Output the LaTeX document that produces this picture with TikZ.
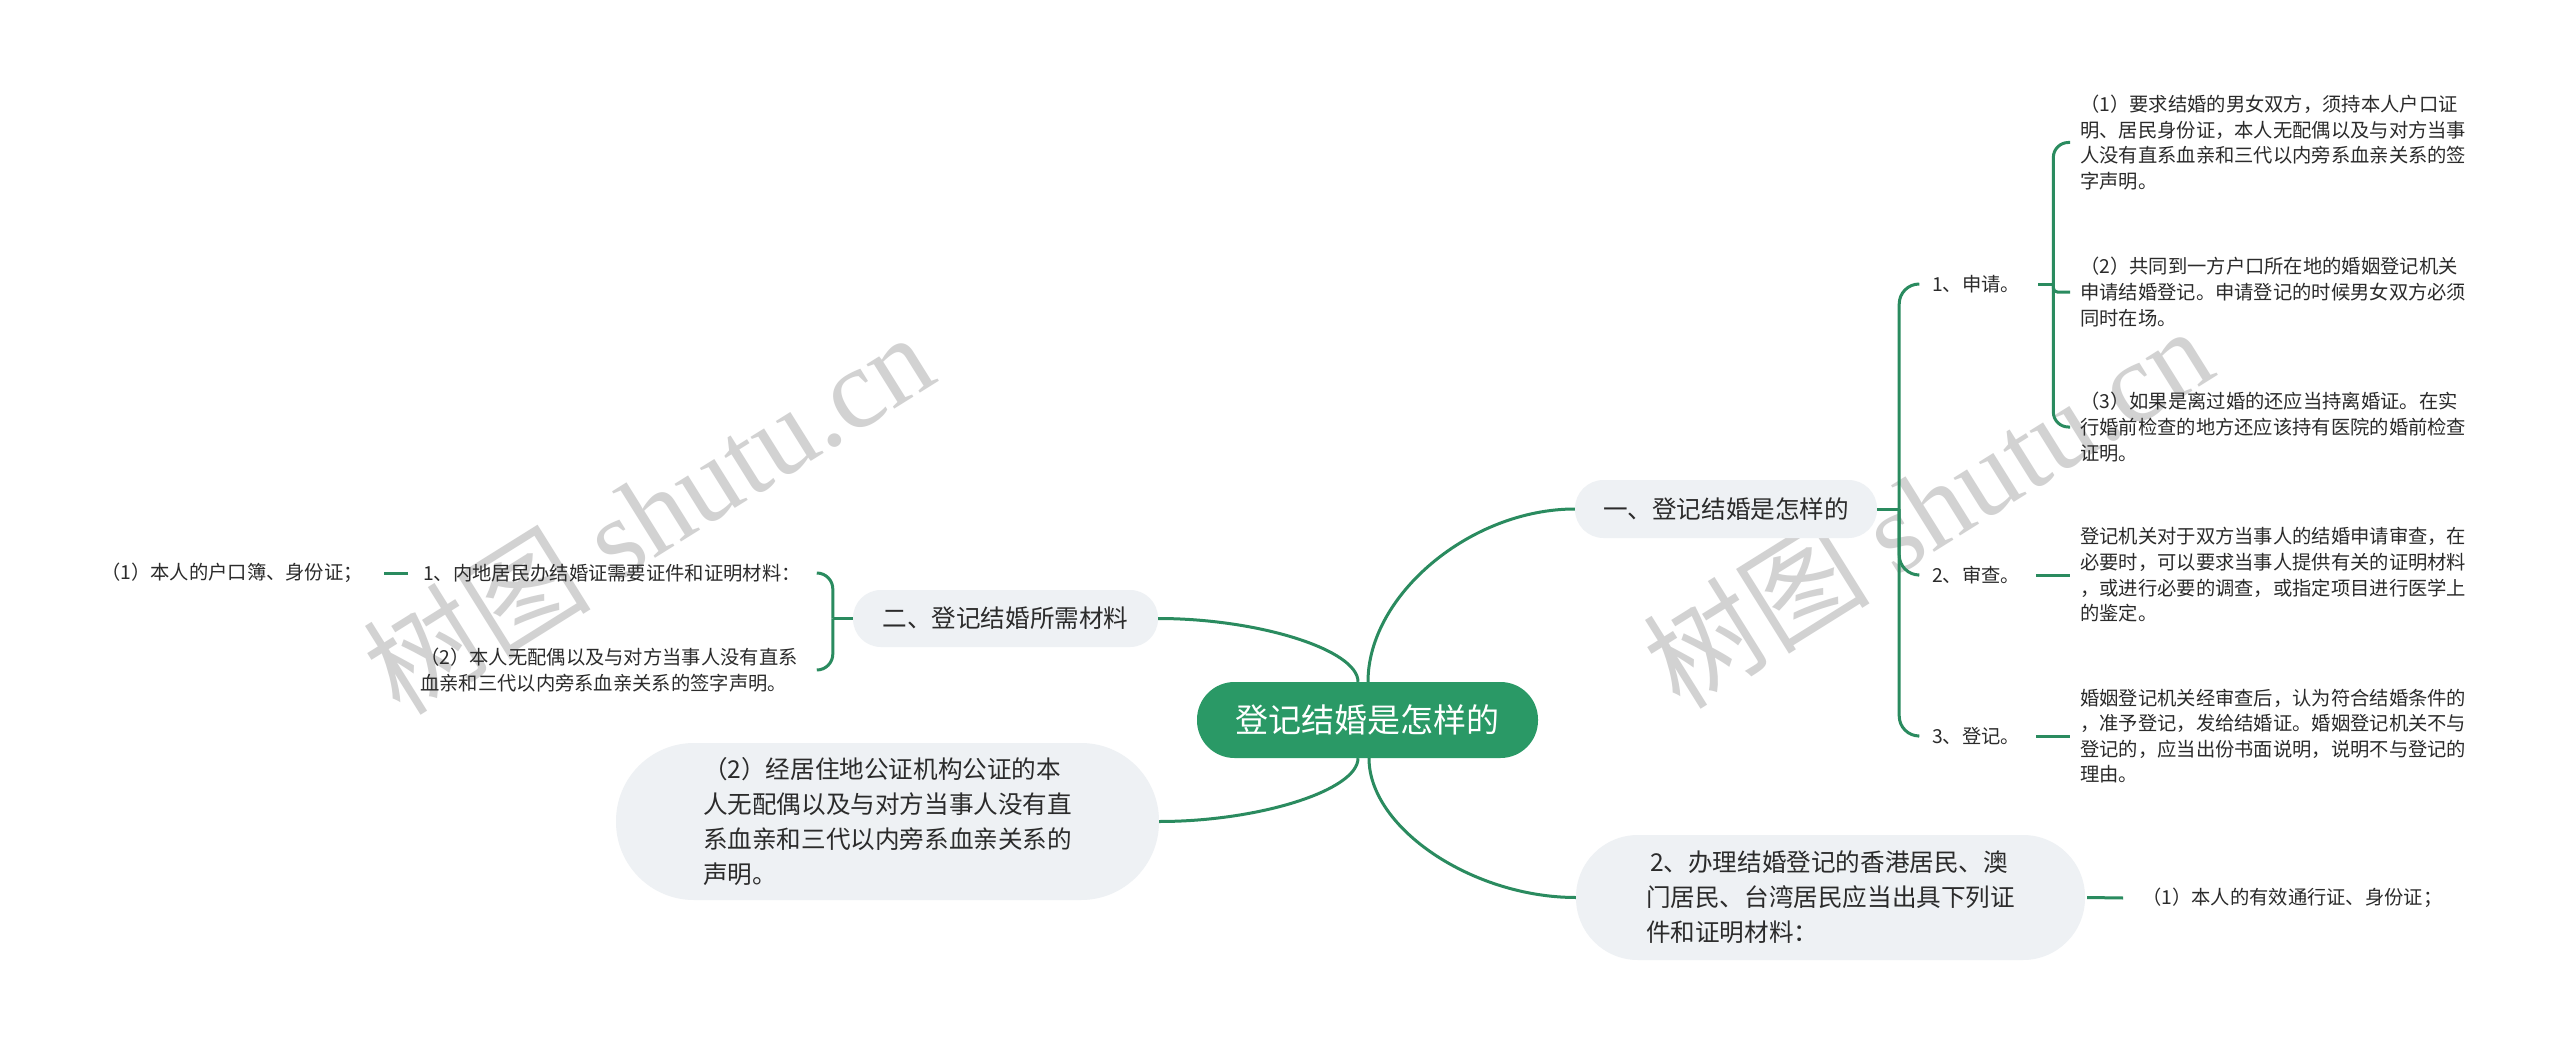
\documentclass[tikz,border=0pt]{standalone}
\usepackage{fontspec}
\setmainfont{Noto Sans CJK SC}
\newfontfamily\wmlatin{Liberation Serif}
\usetikzlibrary{calc}
\definecolor{lineg}{HTML}{2A8B5F}
\definecolor{rootg}{HTML}{2A9966}
\definecolor{boxg}{HTML}{EEF1F4}
\definecolor{txt}{HTML}{2B2B2B}
\definecolor{wm}{HTML}{D2D2D2}
\begin{document}
\begin{tikzpicture}[x=1pt,y=-1pt,
  conn/.style={draw=lineg,line width=3pt},
  small/.style={font=\fontsize{19.3}{25.6}\selectfont,text=txt,inner sep=0pt,align=left,anchor=west},
  topic/.style={fill=boxg,text=txt,inner sep=0pt,align=left,font=\fontsize{24.6}{35}\selectfont},
  rootbox/.style={fill=rootg,text=white,inner sep=0pt,font=\fontsize{33}{40}\selectfont},
  wmark/.style={text=wm,inner sep=0pt,font=\fontsize{114}{120}\selectfont}]
\useasboundingbox[fill=white] (0,0) rectangle (2560,1043);
% watermarks
\node[wmark,rotate=32] (wm1) at (648,512) {树图 {\wmlatin shutu.cn}};
\node[wmark,rotate=32] (wm2) at (1927,506) {树图 {\wmlatin shutu.cn}};
% main nodes
\node[rootbox,minimum width=341pt,minimum height=76pt,rounded corners=37.5pt] (root) at (1367.5,720) {登记结婚是怎样的};
\node[topic,minimum width=302pt,minimum height=58pt,rounded corners=28.5pt] (n1) at (1726,509) {一、登记结婚是怎样的};
\node[topic,minimum width=305pt,minimum height=57pt,rounded corners=28pt] (n2) at (1005.5,618.5) {二、登记结婚所需材料};
\node[topic,minimum width=543pt,minimum height=157pt,rounded corners=78pt] (n3) at (887.5,821.5) {（2）经居住地公证机构公证的本\\人无配偶以及与对方当事人没有直\\系血亲和三代以内旁系血亲关系的\\声明。};
\node[topic,minimum width=509pt,minimum height=125pt,rounded corners=62pt] (n4) at (1830.5,897.5) {\hspace*{4pt}2、办理结婚登记的香港居民、澳\\门居民、台湾居民应当出具下列证\\件和证明材料：};
% right texts
\node[small] (a1) at (1932,284) {1、申请。};
\node[small] (a2) at (1932,575) {2、审查。};
\node[small] (a3) at (1932,736) {3、登记。};
\node[small] (b1) at (2080,142.5) {（1）要求结婚的男女双方，须持本人户口证\\明、居民身份证，本人无配偶以及与对方当事\\人没有直系血亲和三代以内旁系血亲关系的签\\字声明。};
\node[small] (b2) at (2080,292) {（2）共同到一方户口所在地的婚姻登记机关\\申请结婚登记。申请登记的时候男女双方必须\\同时在场。};
\node[small] (b3) at (2080,427) {（3）如果是离过婚的还应当持离婚证。在实\\行婚前检查的地方还应该持有医院的婚前检查\\证明。};
\node[small] (b4) at (2080,575) {登记机关对于双方当事人的结婚申请审查，在\\必要时，可以要求当事人提供有关的证明材料\\，或进行必要的调查，或指定项目进行医学上\\的鉴定。};
\node[small] (b5) at (2080,736) {婚姻登记机关经审查后，认为符合结婚条件的\\，准予登记，发给结婚证。婚姻登记机关不与\\登记的，应当出份书面说明，说明不与登记的\\理由。};
\node[small] (c1) at (2142,898) {（1）本人的有效通行证、身份证；};
% left texts
\node[small] (l0) at (101,573) {（1）本人的户口簿、身份证；};
\node[small] (l1) at (423,573) {1、内地居民办结婚证需要证件和证明材料：};
\node[small] (l2) at (420,670) {（2）本人无配偶以及与对方当事人没有直系\\血亲和三代以内旁系血亲关系的签字声明。};
% root connectors
\draw[conn] ($(root.north)+(0.5,0)$) .. controls +(0,-87) and +(-104,0) .. (n1.west);
\draw[conn] ($(root.north)+(-9.5,0)$) .. controls +(0,-32) and +(100,0) .. (n2.east);
\draw[conn] ($(root.south)+(-9.5,0)$) .. controls +(0,32) and +(100,0) .. (n3.east);
\draw[conn] ($(root.south)+(1.5,0)$) .. controls +(0,70) and +(-103,0) .. (n4.west);
% branch one
\draw[conn] (n1.east) -- ++(22,0) coordinate (j1);
\draw[conn,rounded corners=20pt] (j1) |- ($(j1 |- a1.west)+(19,0)$);
\draw[conn,rounded corners=20pt] (j1) |- ($(j1 |- a2.west)+(19,0)$);
\draw[conn,rounded corners=20pt] (j1) |- ($(j1 |- a3.west)+(19,0)$);
\draw[conn] ($(a1.east)+(18,0)$) -- ++(15,0) coordinate (j2);
\draw[conn,rounded corners=15pt] (j2) |- ($(b1.west)+(-10,0)$);
\draw[conn,rounded corners=4pt] (j2) |- ($(b2.west)+(-10,0)$);
\draw[conn,rounded corners=15pt] (j2) |- ($(b3.west)+(-10,0)$);
\draw[conn] ($(a2.east)+(16,0)$) -- ($(b4.west)+(-10,0)$);
\draw[conn] ($(a3.east)+(16,0)$) -- ($(b5.west)+(-10,0)$);
\draw[conn] ($(n4.east)+(2,0)$) -- ($(c1.west)+(-19,0)$);
% branch two
\draw[conn] (n2.west) -- ++(-20,0) coordinate (j3);
\draw[conn,rounded corners=16pt] (j3) |- ($(j3 |- l1.west)+(-16,0)$);
\draw[conn,rounded corners=16pt] (j3) |- ($(j3 |- l2.west)+(-16,0)$);
\draw[conn] ($(l1.west)+(-15,0)$) -- ($(l0.east)+(21,0)$);
\end{tikzpicture}
\end{document}
